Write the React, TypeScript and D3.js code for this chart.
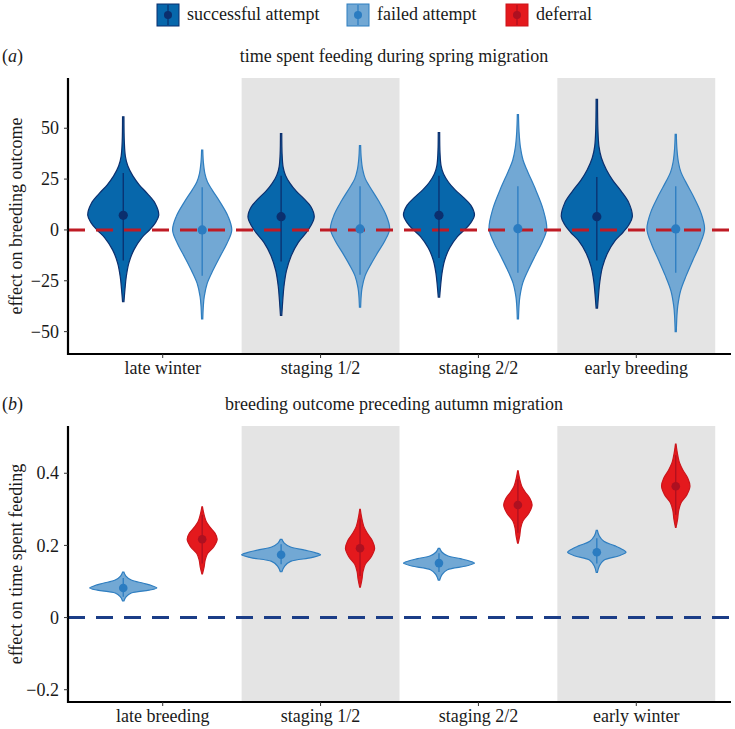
import React, { useEffect, useRef } from 'react'
import * as d3 from 'd3'

const W = 735
const H = 729
const FONT = '"Liberation Serif"'

// categories
const springStages = ['late winter', 'staging 1/2', 'staging 2/2', 'early breeding']
const autumnStages = ['late breeding', 'staging 1/2', 'staging 2/2', 'early winter']

// posterior summaries
// med = median, lo/hi = tails of the violin, ciLo/ciHi = interval line, w = relative width
const springSuccess = [
  { med: 7.2, lo: -35.3, hi: 55.6, ciLo: -15, ciHi: 28, w: 0.9 },
  { med: 6.5, lo: -42, hi: 47.4, ciLo: -15.5, ciHi: 26.7, w: 0.84 },
  { med: 7.2, lo: -33, hi: 47.8, ciLo: -13.8, ciHi: 26.7, w: 0.9 },
  { med: 6.5, lo: -38.4, hi: 64.2, ciLo: -15, ciHi: 26, w: 0.9 },
]
const springFailed = [
  { med: 0, lo: -43.8, hi: 39.2, ciLo: -22.5, ciHi: 21, w: 0.75 },
  { med: 0.5, lo: -38, hi: 41.5, ciLo: -22, ciHi: 21.5, w: 0.75 },
  { med: 0.6, lo: -43.8, hi: 56.7, ciLo: -21, ciHi: 21.5, w: 0.73 },
  { med: 0.5, lo: -50, hi: 47, ciLo: -21, ciHi: 21.5, w: 0.73 },
]
const autumnFailed = [
  { med: 0.082, lo: 0.046, hi: 0.126, ciLo: 0.058, ciHi: 0.11, w: 0.85 },
  { med: 0.174, lo: 0.127, hi: 0.217, ciLo: 0.148, ciHi: 0.203, w: 1.0 },
  { med: 0.151, lo: 0.104, hi: 0.192, ciLo: 0.126, ciHi: 0.178, w: 0.9 },
  { med: 0.181, lo: 0.125, hi: 0.242, ciLo: 0.15, ciHi: 0.22, w: 0.74 },
]
const autumnDeferral = [
  { med: 0.217, lo: 0.121, hi: 0.307, ciLo: 0.15, ciHi: 0.285, w: 0.38 },
  { med: 0.192, lo: 0.084, hi: 0.3, ciLo: 0.115, ciHi: 0.275, w: 0.37 },
  { med: 0.312, lo: 0.206, hi: 0.407, ciLo: 0.235, ciHi: 0.385, w: 0.36 },
  { med: 0.364, lo: 0.25, hi: 0.481, ciLo: 0.285, ciHi: 0.45, w: 0.36 },
]

// violin outlines: [position between median and tail (-1..1), relative half width]
const successShape = [
  [-1, 0.02], [-0.85, 0.05], [-0.71, 0.085], [-0.55, 0.16], [-0.4, 0.3], [-0.26, 0.52],
  [-0.17, 0.74], [-0.09, 0.9], [0, 1], [0.12, 0.9], [0.22, 0.68], [0.31, 0.45],
  [0.4, 0.27], [0.5, 0.13], [0.6, 0.06], [0.75, 0.03], [1, 0.02],
]
const failedShape = [
  [-1, 0.02], [-0.85, 0.04], [-0.75, 0.07], [-0.6, 0.17], [-0.45, 0.37], [-0.3, 0.6],
  [-0.15, 0.84], [0, 1], [0.17, 0.875], [0.34, 0.62], [0.5, 0.34], [0.6, 0.18],
  [0.71, 0.09], [0.85, 0.04], [1, 0.02],
]
const flatShape = [
  [-1, 0.02], [-0.67, 0.09], [-0.39, 0.24], [-0.17, 0.77], [0, 1], [0.14, 0.86],
  [0.3, 0.6], [0.5, 0.24], [0.75, 0.08], [1, 0.02],
]
const deferralShape = [
  [-1, 0.02], [-0.8, 0.13], [-0.6, 0.2], [-0.41, 0.36], [-0.21, 0.78], [0, 1],
  [0.19, 0.85], [0.39, 0.49], [0.55, 0.27], [0.7, 0.16], [0.85, 0.08], [1, 0.02],
]

const springTicks = [-50, -25, 0, 25, 50]
const autumnTicks = [-0.2, 0, 0.2, 0.4]

const colors = {
  success: { fill: '#0767ab', line: '#0b2f6e', dot: '#0b2f6e' },
  failed: { fill: '#72a8d4', line: '#2f7ec0', dot: '#2b7cc1' },
  deferral: { fill: '#e4191d', line: '#cc151b', dot: '#ae1020' },
}

const legendItems = [
  { label: 'successful attempt', c: colors.success },
  { label: 'failed attempt', c: colors.failed },
  { label: 'deferral', c: colors.deferral },
]

const minus = (s: string) => s.replace('-', '\u2212')

function txt(g: any) {
  return g
    .append('text')
    .style('font-family', FONT)
    .attr('font-size', 18)
    .attr('fill', '#1a1a1a')
}

function drawPanel(svg: any, p: any) {
  const left = 68
  const right = 731
  const x = d3.scalePoint().domain(p.stages).range([left, right]).padding(0.6)
  const step = x.step()
  const y = d3.scaleLinear().domain(p.yDomain).range([p.bottom, p.top])
  const g = svg.append('g')

  // shaded stages
  p.stages.forEach((s: string, i: number) => {
    if (i % 2 === 1) {
      g.append('rect')
        .attr('x', x(s)! - step / 2)
        .attr('y', p.top)
        .attr('width', step)
        .attr('height', p.bottom - p.top)
        .attr('fill', '#e4e4e4')
    }
  })

  // violins
  p.series.forEach((ser: any) => {
    ser.data.forEach((d: any, i: number) => {
      const cx = x(p.stages[i])! + (ser.side * step) / 4
      const half = (d.w * step) / 4
      const pts = ser.shape.map(([r, w]: number[]) => ({
        v: r < 0 ? d.med + r * (d.med - d.lo) : d.med + r * (d.hi - d.med),
        w: w * half,
      }))
      const area = d3
        .area<any>()
        .y(q => y(q.v))
        .x0(q => cx - q.w)
        .x1(q => cx + q.w)
        .curve(d3.curveCatmullRom)
      g.append('path')
        .attr('d', area(pts))
        .attr('fill', ser.c.fill)
        .attr('stroke', ser.c.line)
        .attr('stroke-width', 1.2)
    })
  })

  // reference line
  g.append('line')
    .attr('x1', left)
    .attr('x2', right)
    .attr('y1', y(0))
    .attr('y2', y(0))
    .attr('stroke', p.refColor)
    .attr('stroke-width', 3)
    .attr('stroke-dasharray', '17 11')

  // point ranges
  p.series.forEach((ser: any) => {
    ser.data.forEach((d: any, i: number) => {
      const cx = x(p.stages[i])! + (ser.side * step) / 4
      g.append('line')
        .attr('x1', cx)
        .attr('x2', cx)
        .attr('y1', y(d.ciLo))
        .attr('y2', y(d.ciHi))
        .attr('stroke', ser.c.dot)
        .attr('stroke-width', 1.3)
      g.append('circle')
        .attr('cx', cx)
        .attr('cy', y(d.med))
        .attr('r', p.dotR)
        .attr('fill', ser.c.dot)
    })
  })

  // axes
  g.append('line')
    .attr('x1', left)
    .attr('x2', left)
    .attr('y1', p.top)
    .attr('y2', p.bottom + 1)
    .attr('stroke', '#000')
    .attr('stroke-width', 2.2)
  g.append('line')
    .attr('x1', left - 1)
    .attr('x2', right)
    .attr('y1', p.bottom)
    .attr('y2', p.bottom)
    .attr('stroke', '#000')
    .attr('stroke-width', 2.2)

  p.ticks.forEach((t: number) => {
    g.append('line')
      .attr('x1', left - 4)
      .attr('x2', left)
      .attr('y1', y(t))
      .attr('y2', y(t))
      .attr('stroke', '#333')
      .attr('stroke-width', 1)
    txt(g)
      .attr('x', left - 9)
      .attr('y', y(t))
      .attr('dy', '0.34em')
      .attr('text-anchor', 'end')
      .text(minus(p.fmt(t)))
  })

  p.stages.forEach((s: string) => {
    g.append('line')
      .attr('x1', x(s))
      .attr('x2', x(s))
      .attr('y1', p.bottom)
      .attr('y2', p.bottom + 4)
      .attr('stroke', '#333')
      .attr('stroke-width', 1)
    txt(g)
      .attr('x', x(s))
      .attr('y', p.bottom + 20)
      .attr('text-anchor', 'middle')
      .text(s)
  })

  // y title
  txt(g)
    .attr('transform', `translate(22,${(p.top + p.bottom) / 2}) rotate(-90)`)
    .attr('text-anchor', 'middle')
    .text(p.yTitle)

  // panel tag and title
  const tag = txt(g).attr('x', 2).attr('y', p.top - 16)
  tag.append('tspan').text('(')
  tag.append('tspan').attr('font-style', 'italic').text(p.tag)
  tag.append('tspan').text(')')
  txt(g)
    .attr('x', 394)
    .attr('y', p.top - 16)
    .attr('text-anchor', 'middle')
    .text(p.title)
}

function drawLegend(svg: any) {
  const g = svg.append('g')
  const starts = [157, 347, 506]
  legendItems.forEach((it, i) => {
    const x0 = starts[i]
    g.append('rect')
      .attr('x', x0)
      .attr('y', 4)
      .attr('width', 22)
      .attr('height', 22)
      .attr('fill', it.c.fill)
      .attr('stroke', it.c.line)
      .attr('stroke-width', 1)
    g.append('line')
      .attr('x1', x0 + 11)
      .attr('x2', x0 + 11)
      .attr('y1', 5)
      .attr('y2', 25)
      .attr('stroke', it.c.dot)
      .attr('stroke-width', 1.2)
    g.append('circle').attr('cx', x0 + 11).attr('cy', 15).attr('r', 4).attr('fill', it.c.dot)
    txt(g)
      .attr('x', x0 + 30)
      .attr('y', 20)
      .text(it.label)
  })
}

export default function App() {
  const ref = useRef<SVGSVGElement>(null)

  useEffect(() => {
    const svg = d3.select(ref.current)
    svg.selectAll('*').remove()
    drawLegend(svg)
    drawPanel(svg, {
      top: 78,
      bottom: 354,
      stages: springStages,
      yDomain: [-61, 74.7],
      ticks: springTicks,
      fmt: (t: number) => String(t),
      yTitle: 'effect on breeding outcome',
      tag: 'a',
      title: 'time spent feeding during spring migration',
      refColor: '#bf1b24',
      dotR: 4.6,
      series: [
        { data: springSuccess, shape: successShape, c: colors.success, side: -1 },
        { data: springFailed, shape: failedShape, c: colors.failed, side: 1 },
      ],
    })
    drawPanel(svg, {
      top: 426,
      bottom: 702,
      stages: autumnStages,
      yDomain: [-0.234, 0.531],
      ticks: autumnTicks,
      fmt: (t: number) => (t === 0 ? '0' : d3.format('.1f')(t)),
      yTitle: 'effect on time spent feeding',
      tag: 'b',
      title: 'breeding outcome preceding autumn migration',
      refColor: '#1b3d87',
      dotR: 4.3,
      series: [
        { data: autumnFailed, shape: flatShape, c: colors.failed, side: -1 },
        { data: autumnDeferral, shape: deferralShape, c: colors.deferral, side: 1 },
      ],
    })
  }, [])

  return (
    <svg
      ref={ref}
      width={W}
      height={H}
      style={{ position: 'absolute', left: 0, top: 0, background: '#fff' }}
    />
  )
}
